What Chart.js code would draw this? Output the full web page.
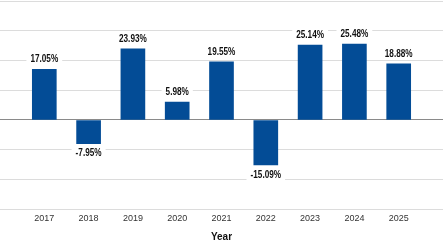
<!DOCTYPE html>
<html>
<head>
<meta charset="utf-8">
<script src="https://cdn.jsdelivr.net/npm/chart.js@4"></script>
<style>
  html, body { margin: 0; padding: 0; background: #fff; }
  #wrap { width: 443px; height: 247px; }
</style>
</head>
<body>
<div id="wrap"><canvas id="grafico"></canvas></div>
<script>
// Dados do gráfico
const anos = [2017, 2018, 2019, 2020, 2021, 2022, 2023, 2024, 2025];
const retornos = [17.05, -7.95, 23.93, 5.98, 19.55, -15.09, 25.14, 25.48, 18.88];
const eixoY = { min: -30, max: 40, passo: 10 };
const tituloX = 'Year';

const fonte = "'Liberation Sans', Arial, sans-serif";

// Rótulos com fundo branco acima/abaixo das barras (texto estreitado)
const rotulos = {
    id: 'rotulos',
    afterDatasetsDraw(chart) {
        const ctx = chart.ctx;
        const meta = chart.getDatasetMeta(0);
        ctx.save();
        ctx.font = 'bold 10px ' + fonte;
        ctx.textAlign = 'center';
        ctx.textBaseline = 'middle';
        meta.data.forEach((barra, i) => {
            const v = retornos[i];
            const texto = v.toFixed(2) + '%';
            const y = v >= 0 ? barra.y - 10 : barra.y + 10;
            const w = ctx.measureText(texto).width * 0.82 + 8;
            ctx.fillStyle = '#fff';
            ctx.fillRect(barra.x - w / 2, y - 6, w, 12);
            ctx.save();
            ctx.translate(barra.x, y);
            ctx.scale(0.82, 1);
            ctx.fillStyle = '#111';
            ctx.fillText(texto, 0, 0);
            ctx.restore();
        });
        ctx.restore();
    }
};

new Chart(document.getElementById('grafico'), {
    type: 'bar',
    data: {
        datasets: [{
            data: anos.map((a, i) => ({ x: a, y: retornos[i] })),
            backgroundColor: '#034c96',
            barThickness: 24
        }]
    },
    options: {
        responsive: true,
        maintainAspectRatio: false,
        animation: false,
        layout: { padding: { top: 1, left: 0, right: 0, bottom: 0 } },
        plugins: {
            legend: { display: false },
            tooltip: { enabled: false }
        },
        scales: {
            x: {
                type: 'linear',
                min: anos[0] - 1,
                max: anos[anos.length - 1] + 1,
                offset: false,
                grid: { display: false, drawTicks: false },
                border: { display: false },
                ticks: {
                    stepSize: 1,
                    autoSkip: false,
                    maxRotation: 0,
                    padding: 4,
                    color: '#333',
                    font: { family: fonte, size: 9 },
                    callback: v => anos.includes(v) ? String(v) : null
                },
                title: {
                    display: true,
                    text: tituloX,
                    color: '#111',
                    font: { family: fonte, size: 10, weight: 'bold' },
                    padding: { top: 3, bottom: 4 }
                }
            },
            y: {
                min: eixoY.min,
                max: eixoY.max,
                border: { display: false },
                ticks: { display: false, stepSize: eixoY.passo },
                grid: {
                    drawTicks: false,
                    color: c => c.tick.value === 0 ? '#8a8a8a' : '#dcdcdc',
                    lineWidth: 1
                },
                afterFit: s => { s.width = 0; }
            }
        }
    },
    plugins: [rotulos]
});
</script>
</body>
</html>
